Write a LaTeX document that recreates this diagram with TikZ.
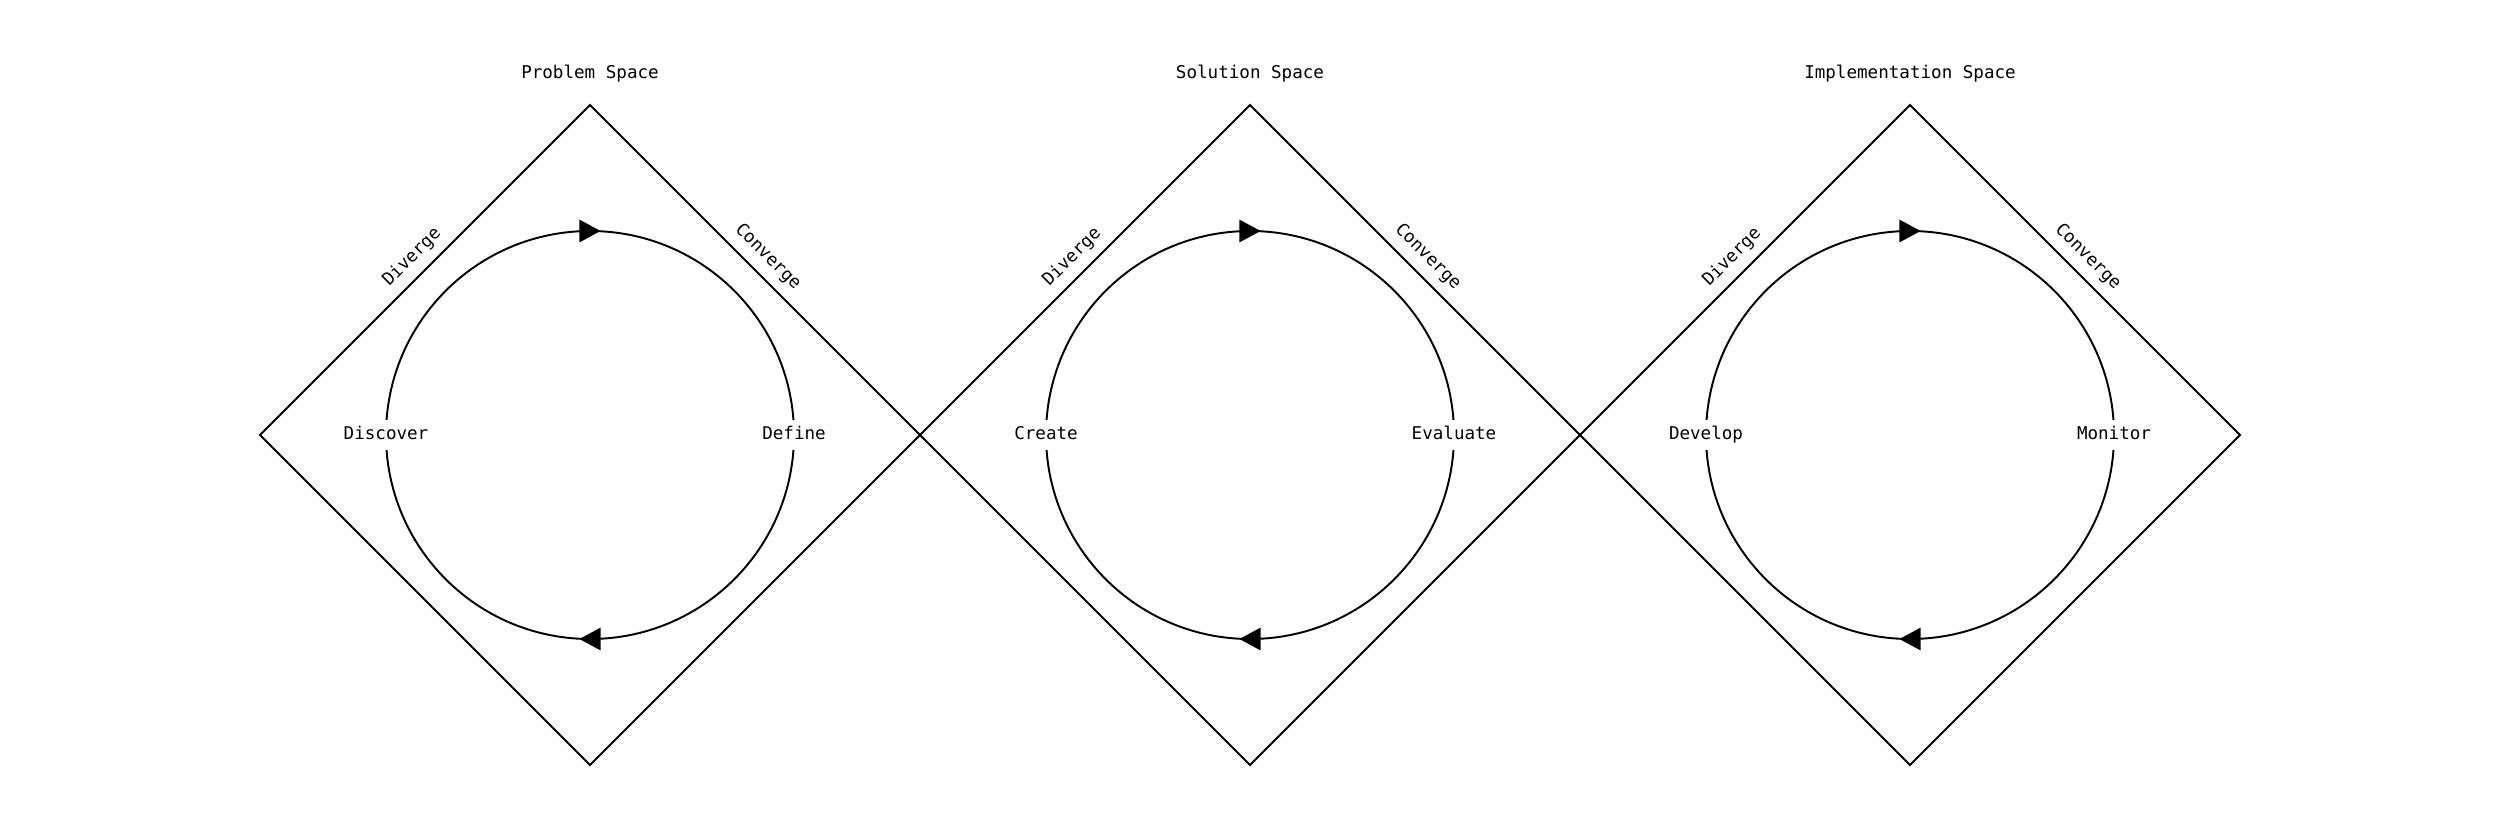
\documentclass[tikz,border=0pt]{standalone}
\usepackage{fontspec}
\setmonofont{DejaVu Sans Mono}
\usetikzlibrary{decorations.markings,calc}
\begin{document}
\begin{tikzpicture}[x=0.02cm,y=0.02cm,
  font=\ttfamily\fontsize{10pt}{12pt}\selectfont,
  edge/.style={line width=1.1pt, line join=miter},
  cyc/.style={line width=1.1pt, postaction={decorate},
    decoration={markings,
      mark=at position 0.25 with {\fill (6pt,0)--(-6pt,6.5pt)--(-6pt,-6.5pt)--cycle;},
      mark=at position 0.75 with {\fill (6pt,0)--(-6pt,6.5pt)--(-6pt,-6.5pt)--cycle;}}},
  phase/.style={fill=white, inner sep=4pt, text height=7.3pt, text depth=2.3pt},
  side/.style={midway, sloped, above=5pt, inner sep=0pt},
  spacetitle/.style={inner sep=0pt, text height=7.3pt, text depth=2.3pt}]
\useasboundingbox (0,0) rectangle (2500,833);
\foreach \cx/\ttl/\lft/\rgt/\i in {590/Problem Space/Discover/Define/1,
                                   1250/Solution Space/Create/Evaluate/2,
                                   1910/Implementation Space/Develop/Monitor/3}{
  \coordinate (c\i) at (\cx,398);
  \coordinate (t\i) at (\cx,728);
  \coordinate (b\i) at (\cx,68);
  \coordinate (l\i) at (\cx-330,398);
  \coordinate (r\i) at (\cx+330,398);
  \node[spacetitle] (title\i) at (\cx,759) {\ttl};
  \draw[edge] (l\i) -- node[side] (div\i) {Diverge} (t\i)
              -- node[side] (con\i) {Converge} (r\i) -- (b\i) -- cycle;
  \draw[cyc] ($(c\i)+(-204,0)$) arc[start angle=180, end angle=-180, radius=204];
  \node[phase] (lp\i) at ($(c\i)+(-204,0)$) {\lft};
  \node[phase] (rp\i) at ($(c\i)+(204,0)$) {\rgt};
}
\end{tikzpicture}
\end{document}
